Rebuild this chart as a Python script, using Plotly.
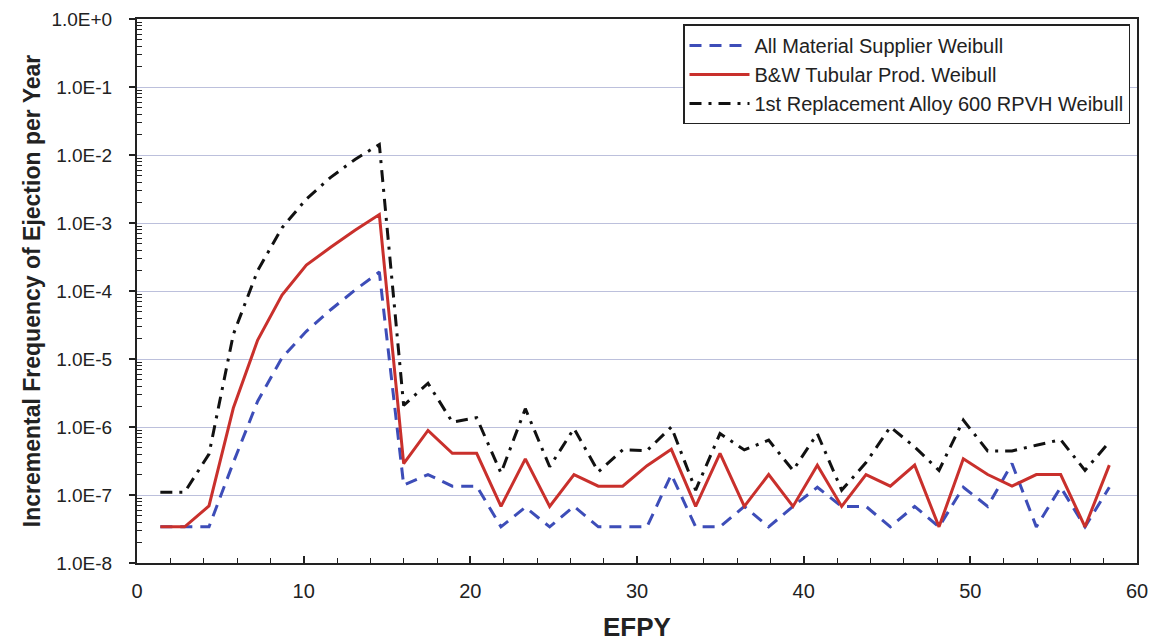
import plotly.graph_objects as go

# EFPY values of each evaluated point
efpy = [1.40, 2.86, 4.32, 5.78, 7.24, 8.70, 10.16, 11.62, 13.08, 14.54,
        16.00, 17.46, 18.92, 20.38, 21.84, 23.30, 24.76, 26.22, 27.68, 29.14,
        30.60, 32.06, 33.52, 34.98, 36.44, 37.90, 39.36, 40.82, 42.28, 43.74,
        45.20, 46.66, 48.12, 49.58, 51.04, 52.50, 53.96, 55.42, 56.88, 58.34]

all_material = [3.4e-8, 3.4e-8, 3.4e-8, 3.0e-7, 2.4e-6, 1.04e-5, 2.55e-5, 5.3e-5, 1.03e-4, 1.9e-4,
                1.4e-7, 2.0e-7, 1.35e-7, 1.35e-7, 3.4e-8, 6.6e-8, 3.4e-8, 6.8e-8, 3.4e-8, 3.4e-8,
                3.4e-8, 2.0e-7, 3.4e-8, 3.4e-8, 6.8e-8, 3.4e-8, 6.8e-8, 1.3e-7, 6.8e-8, 6.8e-8,
                3.4e-8, 6.8e-8, 3.4e-8, 1.3e-7, 6.8e-8, 2.9e-7, 3.4e-8, 1.3e-7, 3.4e-8, 1.3e-7]

bw_tubular = [3.4e-8, 3.4e-8, 6.9e-8, 1.9e-6, 1.9e-5, 8.7e-5, 2.4e-4, 4.4e-4, 7.8e-4, 1.33e-3,
              2.9e-7, 8.9e-7, 4.1e-7, 4.1e-7, 6.8e-8, 3.4e-7, 6.8e-8, 2.0e-7, 1.35e-7, 1.35e-7,
              2.7e-7, 4.7e-7, 6.8e-8, 4.1e-7, 6.8e-8, 2.0e-7, 6.8e-8, 2.75e-7, 6.8e-8, 2.0e-7,
              1.35e-7, 2.75e-7, 3.4e-8, 3.4e-7, 2.0e-7, 1.35e-7, 2.0e-7, 2.0e-7, 3.4e-8, 2.75e-7]

first_replacement = [1.1e-7, 1.1e-7, 4.0e-7, 2.3e-5, 2.0e-4, 8.5e-4, 2.25e-3, 4.7e-3, 8.6e-3, 1.43e-2,
                     2.07e-6, 4.4e-6, 1.18e-6, 1.37e-6, 2.1e-7, 1.86e-6, 2.6e-7, 9.5e-7, 2.2e-7, 4.6e-7,
                     4.5e-7, 1.0e-6, 1.18e-7, 8.0e-7, 4.6e-7, 6.4e-7, 2.3e-7, 8.0e-7, 1.18e-7, 3.0e-7,
                     1.0e-6, 5.1e-7, 2.3e-7, 1.26e-6, 4.45e-7, 4.45e-7, 5.4e-7, 6.5e-7, 2.3e-7, 6.0e-7]

series_names = ["All Material Supplier Weibull",
                "B&W Tubular Prod. Weibull",
                "1st Replacement Alloy 600 RPVH Weibull"]

y_tick_vals = [1e-8, 1e-7, 1e-6, 1e-5, 1e-4, 1e-3, 1e-2, 1e-1, 1e0]
y_tick_text = ["1.0E-8", "1.0E-7", "1.0E-6", "1.0E-5", "1.0E-4", "1.0E-3", "1.0E-2", "1.0E-1", "1.0E+0"]

minor_y = [m * d for d in y_tick_vals[:-1] for m in range(2, 10)]

fig = go.Figure()
fig.add_trace(go.Scatter(x=efpy, y=all_material, mode="lines", name=series_names[0],
                         line=dict(color="#3d4db8", width=3, dash="12px,8px")))
fig.add_trace(go.Scatter(x=efpy, y=bw_tubular, mode="lines", name=series_names[1],
                         line=dict(color="#c9302c", width=3)))
fig.add_trace(go.Scatter(x=efpy, y=first_replacement, mode="lines", name=series_names[2],
                         line=dict(color="#111111", width=3, dash="12px,7px,3px,7px")))

narrow = "Liberation Sans Narrow, Arial Narrow, Liberation Sans, Arial, sans-serif"
regular = "Liberation Sans, Arial, sans-serif"

fig.update_layout(
    width=1152, height=644,
    margin=dict(l=137, r=15, t=19, b=81),
    paper_bgcolor="white", plot_bgcolor="white",
    showlegend=True,
    legend=dict(x=0.993, y=0.99, xanchor="right", yanchor="top",
                bgcolor="white", bordercolor="#222222", borderwidth=1.5,
                font=dict(family=regular, size=20, color="#222222"),
                itemwidth=60, tracegroupgap=5),
    xaxis=dict(range=[0, 60], tickmode="linear", tick0=0, dtick=10, automargin=False,
               ticks="inside", ticklen=7, tickwidth=1.5, tickcolor="#222222",
               minor=dict(ticks="inside", ticklen=5, tickwidth=1, tickcolor="#222222", dtick=2, showgrid=False),
               showline=True, linecolor="#222222", linewidth=2, mirror=True,
               showgrid=False, zeroline=False,
               tickfont=dict(family=narrow, size=20, color="#222222"),
               ticklabelstandoff=9,
               title=dict(text="<b>EFPY</b>", font=dict(family=narrow, size=26, color="#222222"), standoff=17)),
    yaxis=dict(type="log", range=[-8, 0], tickmode="array", tickvals=y_tick_vals, ticktext=y_tick_text,
               automargin=False,
               ticks="outside", ticklen=6, tickwidth=1.5, tickcolor="#222222",
               minor=dict(tickvals=minor_y, ticks="inside", ticklen=5, tickwidth=1, tickcolor="#222222", showgrid=False),
               showline=True, linecolor="#222222", linewidth=2, mirror=True,
               showgrid=True, gridcolor="#bcc0dc", gridwidth=1, zeroline=False,
               tickfont=dict(family=regular, size=19, color="#222222"),
               ticklabelstandoff=13,
               title=dict(text="<b>Incremental Frequency of Ejection per Year</b>",
                          font=dict(family=narrow, size=23, color="#222222"), standoff=4)),
)

fig.write_html("out.html")
